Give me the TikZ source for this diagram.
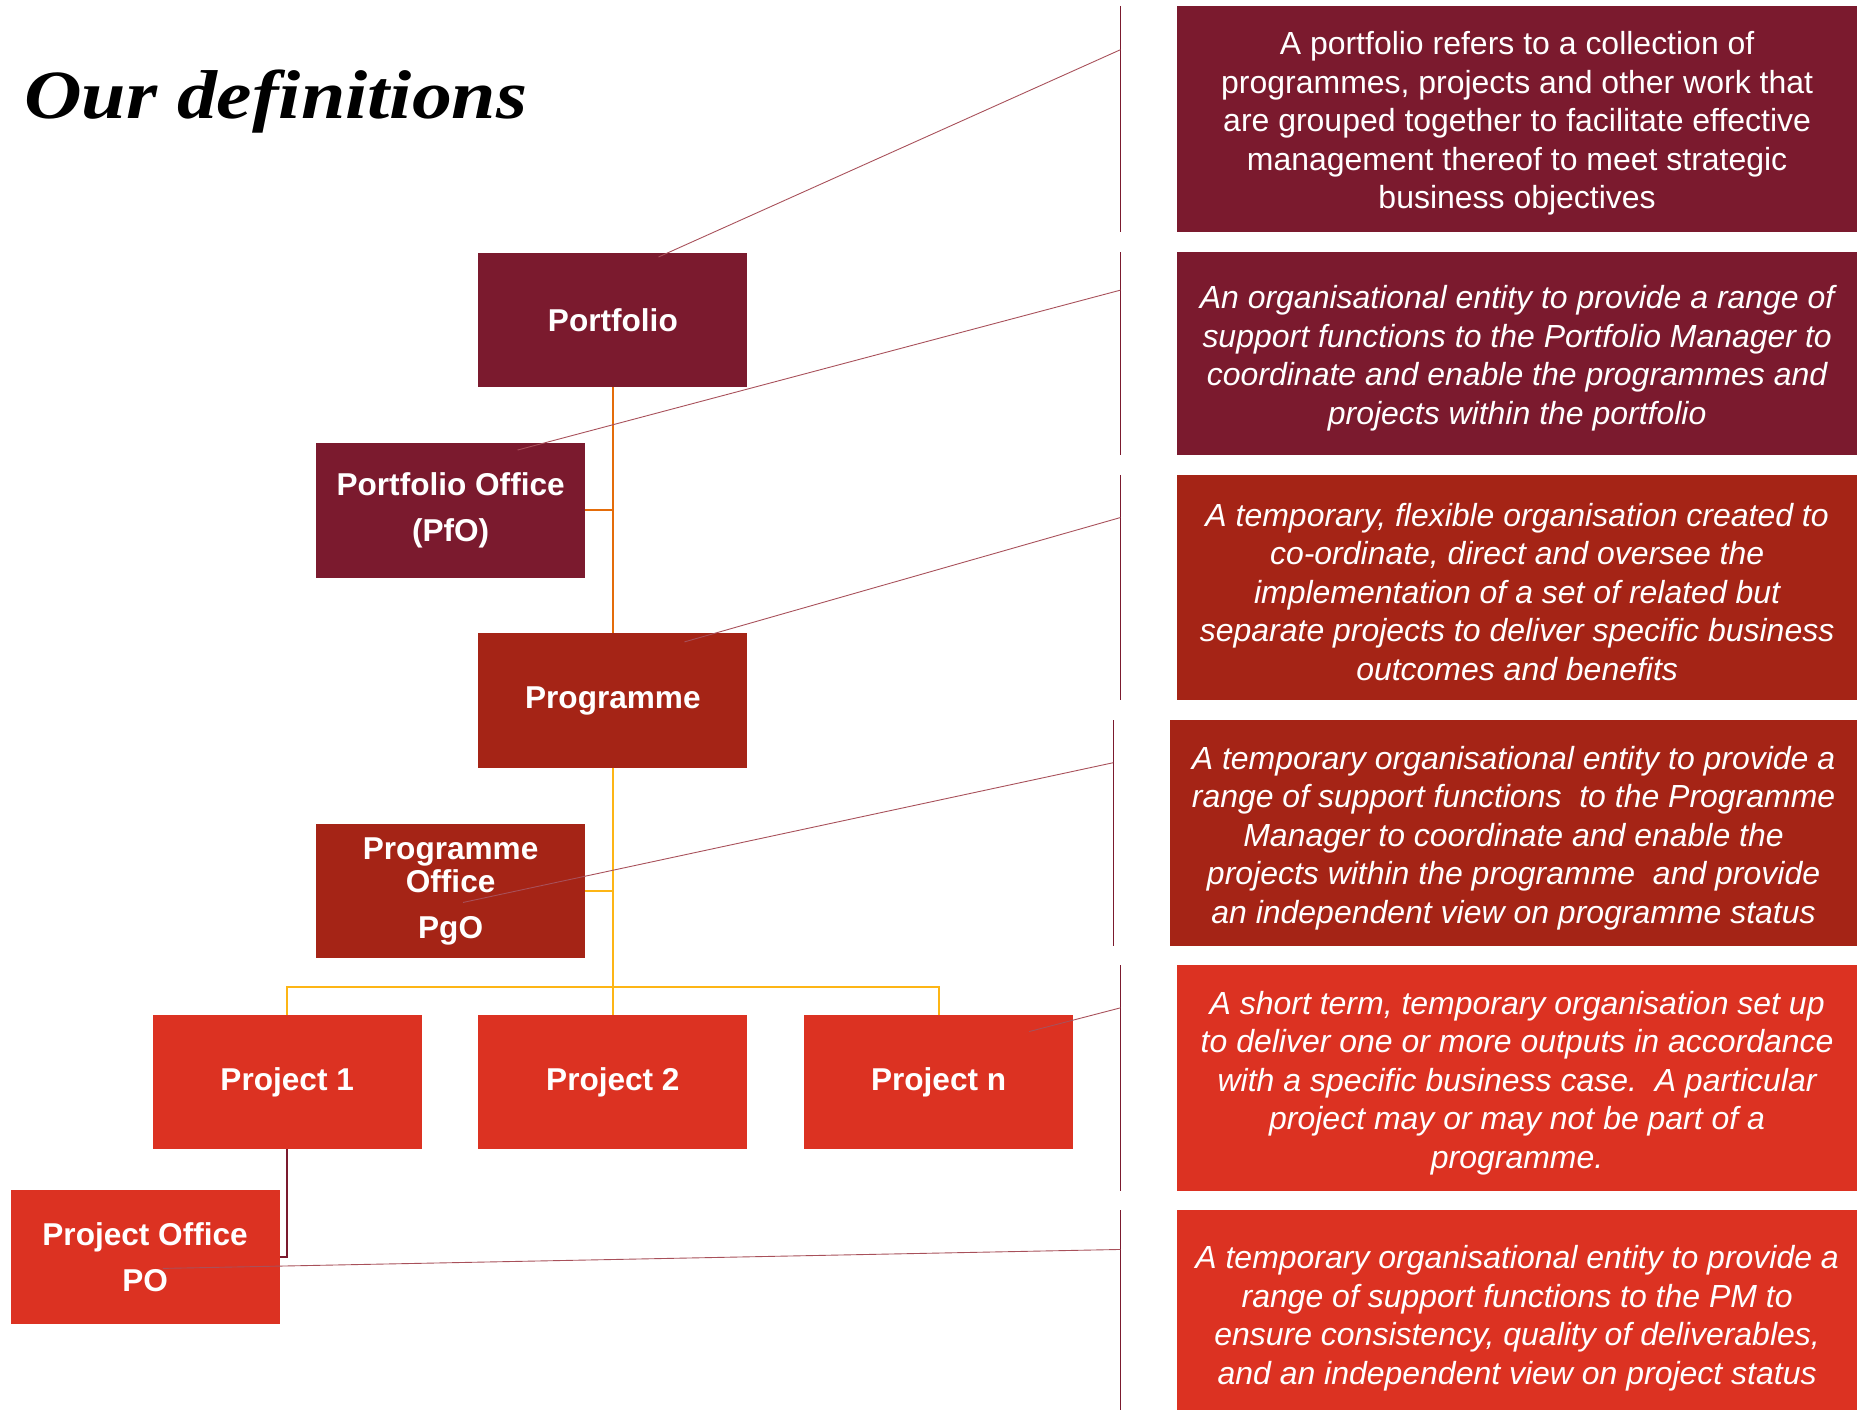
\documentclass[tikz,border=0pt]{standalone}
\usepackage{fontspec}
\setmainfont{Liberation Sans}
\newfontfamily\titlefont{Liberation Serif}
\usetikzlibrary{calc}

\definecolor{maroon}{HTML}{7B1A2E}
\definecolor{rust}{HTML}{A52416}
\definecolor{scarlet}{HTML}{DC3222}
\definecolor{amber}{HTML}{E46C0A}
\definecolor{gold}{HTML}{FDB515}
\definecolor{leader}{HTML}{A8505A}

% taller first line, to set the definition text a little lower in its box
\newcommand\firstline{\rule{0pt}{16.4pt}}

\begin{document}
\begin{tikzpicture}[x=0.6pt,y=-0.6pt,
  orgbox/.style={draw=none, inner sep=0pt, outer sep=0pt,
    minimum width=136.2pt, minimum height=68.1pt, text=white, align=center,
    font={\fontsize{16}{19.2}\selectfont\bfseries}},
  defbox/.style={inner sep=0pt, outer sep=0pt, minimum width=344.4pt,
    text=white, align=center, font={\fontsize{16.2}{19.5}\selectfont}},
  defit/.style={defbox, font={\fontsize{16.2}{19.5}\selectfont\itshape}},
  trunk/.style={line width=1pt},
  leaderline/.style={leader, line width=0.45pt},
  bar/.style={maroon, line width=0.7pt}]

\useasboundingbox (0,0) rectangle (1568,1190);
\fill[white] (0,0) rectangle (1568,1190);

% heading
\node[anchor=base west, inner sep=0pt,
  font={\titlefont\bfseries\itshape\fontsize{35}{40}\selectfont}] (title)
  at (20,100) {\scalebox{1.155}[1]{Our definitions}};

% organisation chart
\node[orgbox, fill=maroon] (portfolio) at (517.5,270) {Portfolio};
\node[orgbox, fill=maroon] (pfo) at (380.5,431) {Portfolio Office\\[4.2pt](PfO)};
\node[orgbox, fill=rust] (programme) at (517.5,591.5) {Programme};
\node[orgbox, fill=rust] (pgo) at (380.5,752.5) {Programme\\[-2.4pt]Office\\[4.2pt]PgO};
\node[orgbox, fill=scarlet] (p1) at (242.5,913.5) {Project 1};
\node[orgbox, fill=scarlet] (p2) at (517.5,913.5) {Project 2};
\node[orgbox, fill=scarlet] (pn) at (792.5,913.5) {Project n};
\node[orgbox, fill=scarlet] (po) at (122.5,1061.5) {Project Office\\[4.2pt]PO};

% reporting lines
\draw[trunk, amber] (portfolio.south) -- (programme.north);
\draw[trunk, amber] (pfo.east) -- (pfo.east -| portfolio.south);
\draw[trunk, gold] (programme.south) -- (p2.north);
\draw[trunk, gold] (pgo.east) -- (pgo.east -| programme.south);
\coordinate (split) at (517.5,833);
\draw[trunk, gold] (p1.north) |- (split) -| (pn.north);
\draw[maroon, line width=0.8pt, preaction={draw=white, line width=2.6pt}]
  (p1.south) |- (po.east);

% definitions
\node[defbox, fill=maroon, minimum height=114.6pt] (d1) at (1281,100.5)
  {\firstline A portfolio refers to a collection of\\programmes, projects and other work that\\are grouped together to facilitate effective\\management thereof to meet strategic\\business objectives};
\node[defit, fill=maroon, minimum height=102.6pt] (d2) at (1281,298.5)
  {\firstline An organisational entity to provide a range of\\support functions to the Portfolio Manager to\\coordinate and enable the programmes and\\projects within the portfolio};
\node[defit, fill=rust, minimum height=114pt] (d3) at (1281,496)
  {\firstline A temporary, flexible organisation created to\\co-ordinate, direct and oversee the\\implementation of a set of related but\\separate projects to deliver specific business\\outcomes and benefits};
\node[defit, fill=rust, minimum width=348pt, minimum height=114.6pt] (d4) at (1278,703.5)
  {\firstline A temporary organisational entity to provide a\\range of support functions\ \ to the Programme\\Manager to coordinate and enable the\\projects within the programme\ \ and provide\\an independent view on programme status};
\node[defit, fill=scarlet, minimum height=114.6pt] (d5) at (1281,910.5)
  {\firstline A short term, temporary organisation set up\\to deliver one or more outputs in accordance\\with a specific business case.\ \ A particular\\project may or may not be part of a\\programme.};
\node[defit, fill=scarlet, minimum height=105pt] (d6) at (1281,1109)
  {\firstline A temporary organisational entity to provide a\\range of support functions to the PM to\\ensure consistency, quality of deliverables,\\and an independent view on project status};

% separator bars beside the definitions
\draw[bar] (946,5) coordinate (b1t) -- (946,196) coordinate (b1b);
\draw[bar] (946,213) coordinate (b2t) -- (946,384) coordinate (b2b);
\draw[bar] (946,401) coordinate (b3t) -- (946,591) coordinate (b3b);
\draw[bar] (940,608) coordinate (b4t) -- (940,799) coordinate (b4b);
\draw[bar] (946,815) coordinate (b5t) -- (946,1006) coordinate (b5b);
\draw[bar] (946,1022) coordinate (b6t) -- (946,1195) coordinate (b6b);

% leader lines from each box to its definition
\coordinate (s1) at (556,217);   \coordinate (e1) at (946,42);
\coordinate (s2) at (437,380);   \coordinate (e2) at (946,245);
\coordinate (s3) at (578,542);   \coordinate (e3) at (946,437);
\coordinate (s4) at (391,762);   \coordinate (e4) at (940,644);
\coordinate (s5) at (869,871);   \coordinate (e5) at (946,851);
\coordinate (s6) at (137.5,1071); \coordinate (e6) at (946,1055);
\foreach \i in {1,...,6} \draw[leaderline] (s\i) -- (e\i);

\end{tikzpicture}
\end{document}
